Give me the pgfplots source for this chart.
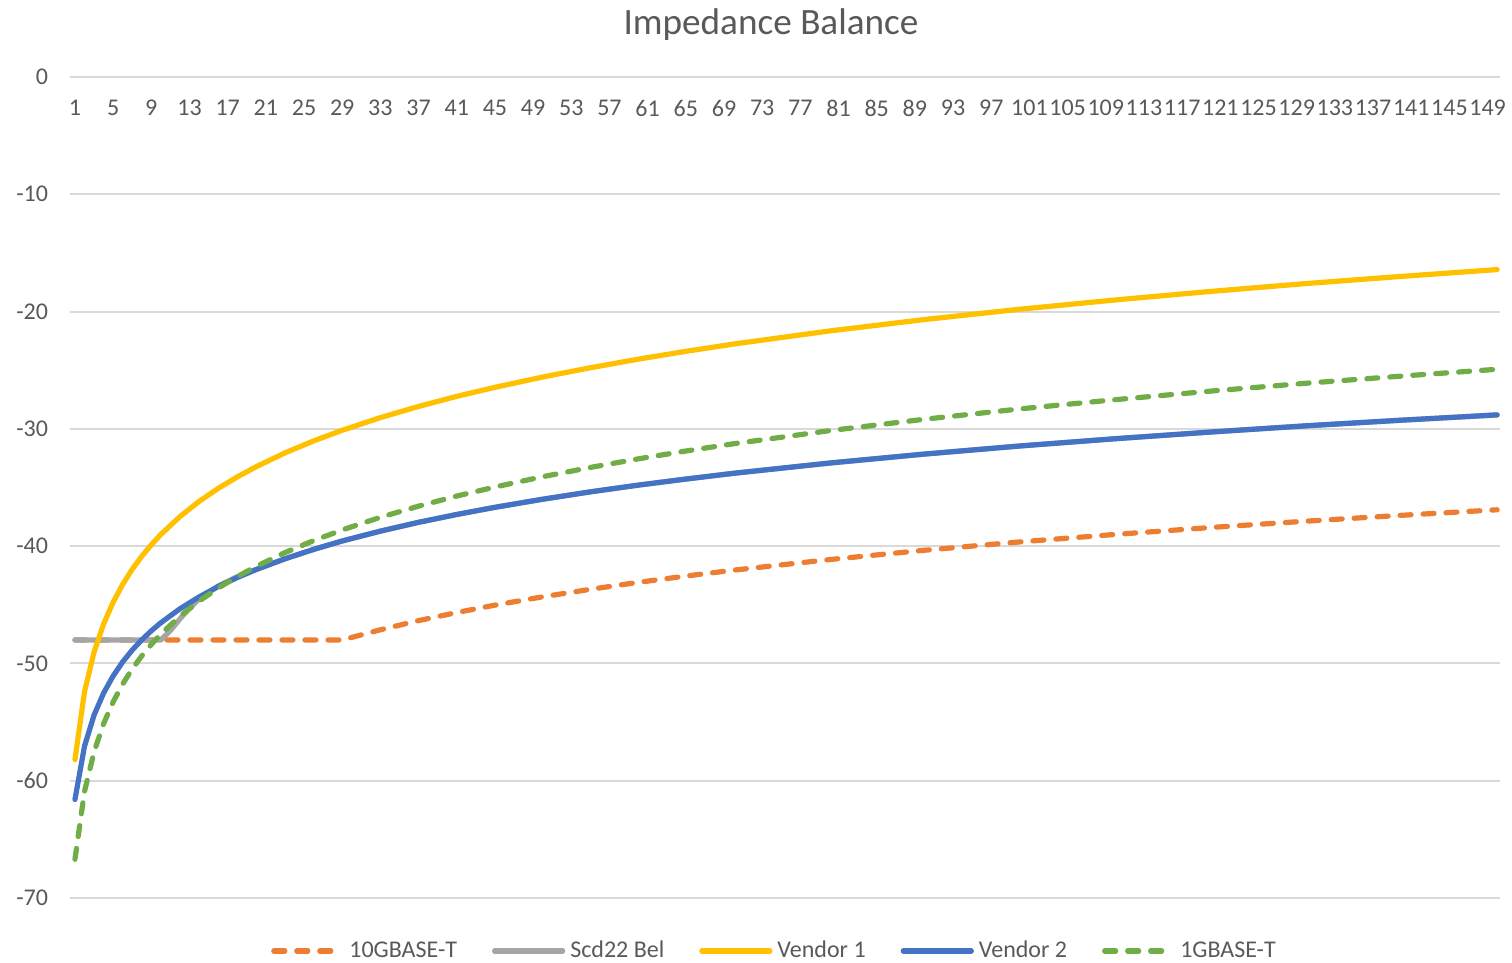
\documentclass[border=0pt]{standalone}
\usepackage{pgfplots}
\usepackage{pgfplotstable}
\pgfplotsset{compat=1.18}
\usepackage{fontspec}
\setmainfont{Carlito}

\definecolor{cOrange}{HTML}{ED7D31}
\definecolor{cGray}{HTML}{A5A5A5}
\definecolor{cYellow}{HTML}{FFC000}
\definecolor{cBlue}{HTML}{4472C4}
\definecolor{cGreen}{HTML}{70AD47}
\definecolor{cText}{HTML}{595959}
\definecolor{cGrid}{HTML}{D9D9D9}

\pgfplotstableread{
x y
1 -48
5 -48
10 -48
15 -48
20 -48
25 -48
29 -48
33 -47.13
37 -46.35
41 -45.66
45 -45.03
50 -44.32
55 -43.68
60 -43.09
65 -42.55
70 -42.05
80 -41.15
90 -40.35
100 -39.64
110 -39.00
120 -38.41
130 -37.87
140 -37.37
150 -36.90
}\tenG

\pgfplotstableread{
x y
1 -48
5 -48
10 -48
11 -47.2
12 -46.2
13 -45.3
14 -44.5
16 -43.4
18 -42.6
20 -41.99
23 -41.08
26 -40.28
29 -39.56
33 -38.72
37 -37.97
41 -37.30
45 -36.69
50 -36.00
55 -35.37
60 -34.80
65 -34.28
70 -33.79
80 -32.92
90 -32.15
100 -31.46
110 -30.84
120 -30.27
130 -29.74
140 -29.26
150 -28.81
}\scd

\pgfplotstableread{
x y
1 -58.20
2 -52.42
3 -49.04
4 -46.64
5 -44.78
6 -43.26
7 -41.97
8 -40.86
9 -39.88
10 -39.00
12 -37.48
14 -36.19
16 -35.08
18 -34.10
20 -33.22
23 -32.05
26 -31.03
29 -30.12
33 -29.04
37 -28.09
41 -27.23
45 -26.46
50 -25.58
55 -24.79
60 -24.06
65 -23.39
70 -22.77
80 -21.66
90 -20.68
100 -19.80
110 -19.01
120 -18.28
130 -17.61
140 -17.00
150 -16.42
}\vendA

\pgfplotstableread{
x y
1 -61.60
2 -57.06
3 -54.41
4 -52.53
5 -51.07
6 -49.87
7 -48.86
8 -47.99
9 -47.22
10 -46.53
12 -45.34
14 -44.33
16 -43.45
18 -42.68
20 -41.99
23 -41.08
26 -40.28
29 -39.56
33 -38.72
37 -37.97
41 -37.30
45 -36.69
50 -36.00
55 -35.37
60 -34.80
65 -34.28
70 -33.79
80 -32.92
90 -32.15
100 -31.46
110 -30.84
120 -30.27
130 -29.74
140 -29.26
150 -28.81
}\vendB

\pgfplotstableread{
x y
1 -66.70
2 -60.92
3 -57.54
4 -55.14
5 -53.28
6 -51.76
7 -50.47
8 -49.36
9 -48.38
10 -47.50
12 -45.98
14 -44.69
16 -43.58
18 -42.60
20 -41.72
23 -40.55
26 -39.53
29 -38.62
33 -37.54
37 -36.59
41 -35.73
45 -34.96
50 -34.08
55 -33.29
60 -32.56
65 -31.89
70 -31.27
80 -30.16
90 -29.18
100 -28.30
110 -27.51
120 -26.78
130 -26.11
140 -25.50
150 -24.92
}\oneG

\begin{document}
\begin{tikzpicture}
\begin{axis}[
  name=ax,
  scale only axis,
  width=715bp, height=410.5bp,
  xmin=0.48, xmax=150.3, ymin=-70, ymax=0,
  xtick={1,5,...,149}, ytick={-70,-60,...,0},
  ymajorgrids,
  major grid style={draw=cGrid, line width=1bp},
  axis line style={draw=none},
  tick style={draw=none},
  xticklabel pos=upper,
  xticklabel style={anchor=center, yshift=-15.5bp},
  yticklabel style={anchor=east, xshift=-7.5bp},
  tick label style={font=\fontsize{12bp}{14bp}\selectfont, text=cText},
  /pgf/number format/assume math mode=true,
  clip=false,
  legend columns=5,
  legend style={
    at={(0.4937,-0.0645)}, anchor=center,
    draw=none, fill=none,
    font=\fontsize{12bp}{14bp}\selectfont, text=cText,
    /tikz/every even column/.append style={column sep=15bp},
    nodes={inner sep=2.5bp},
  },
  legend image code/.code={\draw[#1] (0bp,0bp) -- (34bp,0bp);},
  every axis plot/.append style={line width=2.6bp, line join=round},
]
\addplot[cOrange, dash pattern=on 5.5bp off 6bp, line cap=round] table[x=x,y=y]{\tenG};
\addlegendentry{10GBASE-T}
\addplot[cGray, line cap=round] table[x=x,y=y]{\scd};
\addlegendentry{Scd22 Bel}
\addplot[cYellow, line cap=round] table[x=x,y=y]{\vendA};
\addlegendentry{Vendor 1}
\addplot[cBlue, line cap=round] table[x=x,y=y]{\vendB};
\addlegendentry{Vendor 2}
\addplot[cGreen, dash pattern=on 5.5bp off 6bp, line cap=round] table[x=x,y=y]{\oneG};
\addlegendentry{1GBASE-T}
\end{axis}
\node[font=\fontsize{18.6bp}{22bp}\selectfont, text=cText, anchor=center]
  at ([xshift=350.5bp,yshift=26bp]ax.north west) {Impedance Balance};
\pgfresetboundingbox
\path ([xshift=-35bp,yshift=-32.5bp]ax.south west) rectangle ([xshift=6bp,yshift=38.5bp]ax.north east);
\end{tikzpicture}
\end{document}
